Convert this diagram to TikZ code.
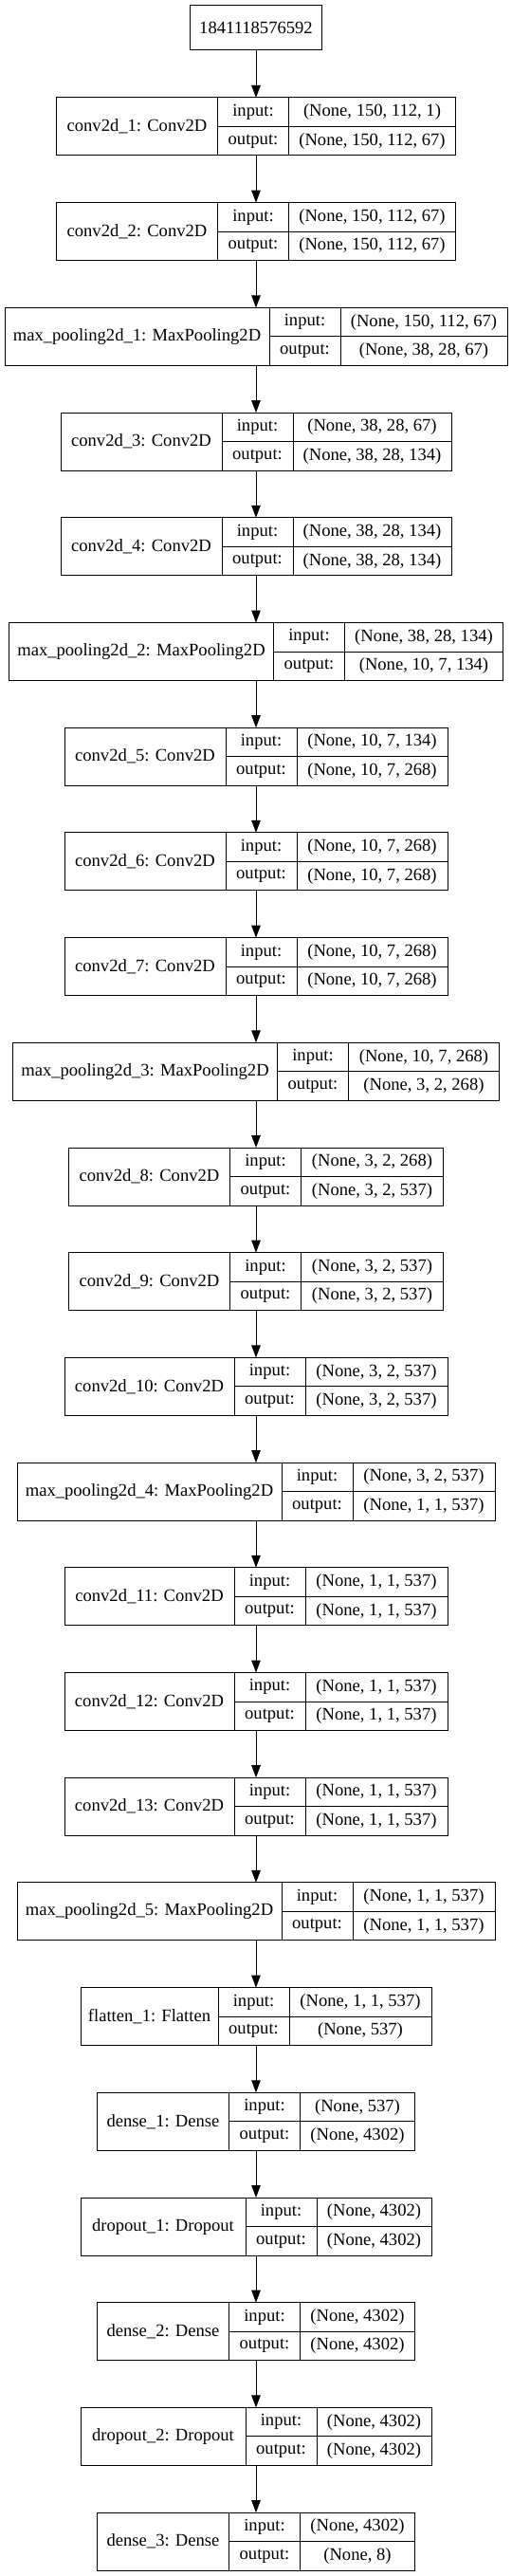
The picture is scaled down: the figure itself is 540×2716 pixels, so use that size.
\documentclass[tikz,border=0pt]{standalone}
\usepackage{fontspec}
\setmainfont{Liberation Serif}
\usetikzlibrary{arrows.meta, positioning}

\begin{document}
\begin{tikzpicture}[x=1pt, y=-1pt, >={Triangle[length=13pt, width=9.5pt]},
    cell/.style={draw, line width=1pt, inner sep=0pt, outer sep=0pt,
                 font=\fontsize{18.6}{22}\selectfont},
    layer/.style={draw, line width=1pt, inner sep=0pt, outer sep=0pt, minimum height=61pt}]

    \useasboundingbox (0,0) rectangle (540,2716);

    \node [cell, minimum width=139pt, minimum height=47pt] (L0) at (270, 29.5) {1841118576592};

    \foreach \nm/\wa/\wb/\shin/\shout [count=\i] in {
        conv2d\_1: Conv2D/170/176/{(None, 150, 112, 1)}/{(None, 150, 112, 67)},
        conv2d\_2: Conv2D/170/176/{(None, 150, 112, 67)}/{(None, 150, 112, 67)},
        max\_pooling2d\_1: MaxPooling2D/279/176/{(None, 150, 112, 67)}/{(None, 38, 28, 67)},
        conv2d\_3: Conv2D/170/167/{(None, 38, 28, 67)}/{(None, 38, 28, 134)},
        conv2d\_4: Conv2D/170/167/{(None, 38, 28, 134)}/{(None, 38, 28, 134)},
        max\_pooling2d\_2: MaxPooling2D/279/167/{(None, 38, 28, 134)}/{(None, 10, 7, 134)},
        conv2d\_5: Conv2D/170/159/{(None, 10, 7, 134)}/{(None, 10, 7, 268)},
        conv2d\_6: Conv2D/170/159/{(None, 10, 7, 268)}/{(None, 10, 7, 268)},
        conv2d\_7: Conv2D/170/159/{(None, 10, 7, 268)}/{(None, 10, 7, 268)},
        max\_pooling2d\_3: MaxPooling2D/279/159/{(None, 10, 7, 268)}/{(None, 3, 2, 268)},
        conv2d\_8: Conv2D/170/150/{(None, 3, 2, 268)}/{(None, 3, 2, 537)},
        conv2d\_9: Conv2D/170/150/{(None, 3, 2, 537)}/{(None, 3, 2, 537)},
        conv2d\_10: Conv2D/179/150/{(None, 3, 2, 537)}/{(None, 3, 2, 537)},
        max\_pooling2d\_4: MaxPooling2D/279/150/{(None, 3, 2, 537)}/{(None, 1, 1, 537)},
        conv2d\_11: Conv2D/179/150/{(None, 1, 1, 537)}/{(None, 1, 1, 537)},
        conv2d\_12: Conv2D/179/150/{(None, 1, 1, 537)}/{(None, 1, 1, 537)},
        conv2d\_13: Conv2D/179/150/{(None, 1, 1, 537)}/{(None, 1, 1, 537)},
        max\_pooling2d\_5: MaxPooling2D/279/150/{(None, 1, 1, 537)}/{(None, 1, 1, 537)},
        flatten\_1: Flatten/145/150/{(None, 1, 1, 537)}/{(None, 537)},
        dense\_1: Dense/139/121/{(None, 537)}/{(None, 4302)},
        dropout\_1: Dropout/174/121/{(None, 4302)}/{(None, 4302)},
        dense\_2: Dense/139/121/{(None, 4302)}/{(None, 4302)},
        dropout\_2: Dropout/174/121/{(None, 4302)}/{(None, 4302)},
        dense\_3: Dense/139/121/{(None, 4302)}/{(None, 8)}} {
        \pgfmathsetmacro\w{\wa+75+\wb}
        \pgfmathsetmacro\yc{133.5+110.7*(\i-1)}
        \node [layer, minimum width=\w pt] (L\i) at (270, \yc) {};
        \node [cell, anchor=west, minimum width=\wa pt, minimum height=61pt] (L\i-name) at (L\i.west) {\nm};
        \node [cell, anchor=north west, minimum width=75pt, minimum height=30.5pt] (L\i-inl) at (L\i-name.north east) {input:};
        \node [cell, anchor=north west, minimum width=75pt, minimum height=30.5pt] (L\i-outl) at (L\i-inl.south west) {output:};
        \node [cell, anchor=north west, minimum width=\wb pt, minimum height=30.5pt] (L\i-in) at (L\i-inl.north east) {\shin};
        \node [cell, anchor=north west, minimum width=\wb pt, minimum height=30.5pt] (L\i-out) at (L\i-in.south west) {\shout};
    }

    \foreach \i in {1,...,24} {
        \pgfmathtruncatemacro\j{\i-1}
        \draw [->, line width=1pt] (L\j) -- (L\i);
    }
\end{tikzpicture}
\end{document}
